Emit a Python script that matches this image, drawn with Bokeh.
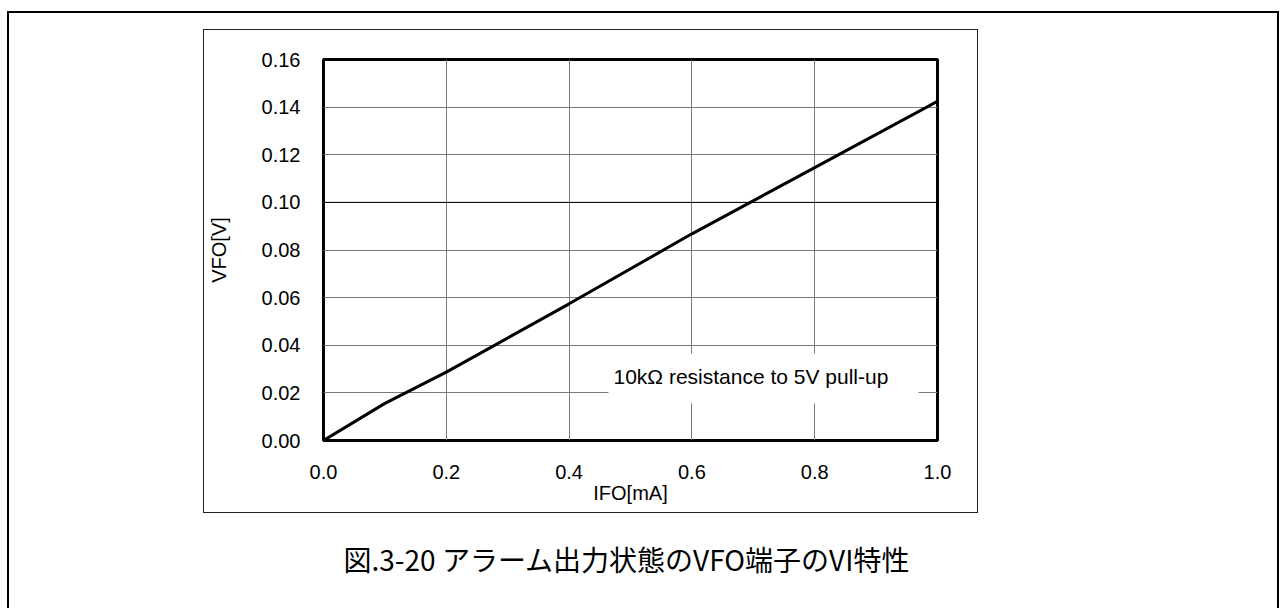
from bokeh.plotting import figure
from bokeh.models import (Range1d, FixedTicker, PrintfTickFormatter, BoxAnnotation, Label,
                          Span, Title, InlineStyleSheet)
from bokeh.embed import file_html
from bokeh.resources import INLINE

# ---- data ----
ifo_ma = [0.0, 0.1, 0.2, 0.4, 0.6, 0.8, 1.0]
vfo_v = [0.0, 0.0156, 0.0287, 0.0574, 0.0868, 0.1146, 0.1424]
x_ticks = [0.0, 0.2, 0.4, 0.6, 0.8, 1.0]
y_ticks = [0.00, 0.02, 0.04, 0.06, 0.08, 0.10, 0.12, 0.14, 0.16]
x_label = "IFO[mA]"
y_label = "VFO[V]"
note_text = "10kΩ resistance to 5V  pull-up"
caption = "図.3-20 アラーム出力状態のVFO端子のVI特性"

# ---- layout (page pixels; the figure sits at the page origin) ----
W, H = 1280, 608
FL, FT, FW, FH = 323, 59, 614, 381
X0, X1 = 0.0, 1.0
Y0, Y1 = 0.0, 0.16
FONT = "Liberation Sans"


def dx(px):
    return X0 + (px - FL) / FW * (X1 - X0)


def dy(py):
    return Y0 + (FT + FH - py) / FH * (Y1 - Y0)


p = figure(width=W, height=H, x_range=Range1d(X0, X1), y_range=Range1d(Y0, Y1),
           output_backend="svg", toolbar_location=None,
           min_border_left=FL, min_border_right=W - FL - FW,
           min_border_top=FT, min_border_bottom=H - FT - FH)
p.background_fill_color = "white"
p.border_fill_color = "white"
p.outline_line_color = "black"
p.outline_line_width = 3

# axes
for ax in (p.xaxis[0], p.yaxis[0]):
    ax.axis_line_color = None
    ax.major_tick_line_color = None
    ax.minor_tick_line_color = None
    ax.major_tick_in = 0
    ax.major_tick_out = 0
    ax.major_label_text_font = FONT
    ax.major_label_text_font_size = "20px"
    ax.major_label_text_color = "black"
    ax.axis_label_text_font = FONT
    ax.axis_label_text_font_size = "20px"
    ax.axis_label_text_font_style = "normal"
    ax.axis_label_text_color = "black"

p.xaxis.ticker = FixedTicker(ticks=x_ticks)
p.xaxis.formatter = PrintfTickFormatter(format="%.1f")
p.xaxis.major_label_standoff = 24
p.xaxis.axis_label = x_label
p.xaxis.axis_label_standoff = 0

p.yaxis.ticker = FixedTicker(ticks=y_ticks)
p.yaxis.formatter = PrintfTickFormatter(format="%.2f")
p.yaxis.major_label_standoff = 23
p.yaxis.axis_label = y_label
p.yaxis.axis_label_standoff = 29

# grid
p.xgrid.ticker = FixedTicker(ticks=x_ticks)
p.ygrid.ticker = FixedTicker(ticks=y_ticks)
for g in (p.xgrid[0], p.ygrid[0]):
    g.grid_line_color = "#7a7a7a"
    g.grid_line_width = 1
p.add_layout(Span(location=y_ticks[5], dimension="width", line_color="black",
                  line_width=1, level="underlay"))

# curve
p.line(ifo_ma, vfo_v, line_color="black", line_width=3)

# note with white background box
p.add_layout(BoxAnnotation(left=dx(608), right=dx(918), top=dy(353), bottom=dy(403),
                           fill_color="white", fill_alpha=1, line_color=None))
p.add_layout(Label(x=dx(613), y=dy(376), text=note_text, text_font=FONT,
                   text_font_size="21px", text_color="black",
                   text_align="left", text_baseline="alphabetic"))

# caption below the chart
p.add_layout(Title(text=caption, align="left", offset=20, standoff=60,
                   text_font="Noto Sans CJK JP", text_font_size="28px",
                   text_font_style="normal", text_color="black"), "below")

# inner chart box and outer frame drawn as CSS boxes over the canvas
css = """
:host { position: relative; overflow: hidden; }
:host::before {
  content: ""; position: absolute; box-sizing: border-box; pointer-events: none; z-index: 5;
  left: 203px; top: 29px; width: 775px; height: 484px; border: 1px solid #222222;
}
:host::after {
  content: ""; position: absolute; box-sizing: border-box; pointer-events: none; z-index: 5;
  left: 7px; top: 11px; width: 1272px; height: 640px; border: 2px solid #000000;
}
"""
p.stylesheets = [InlineStyleSheet(css=css)]

open("out.html", "w").write(file_html(p, INLINE))
